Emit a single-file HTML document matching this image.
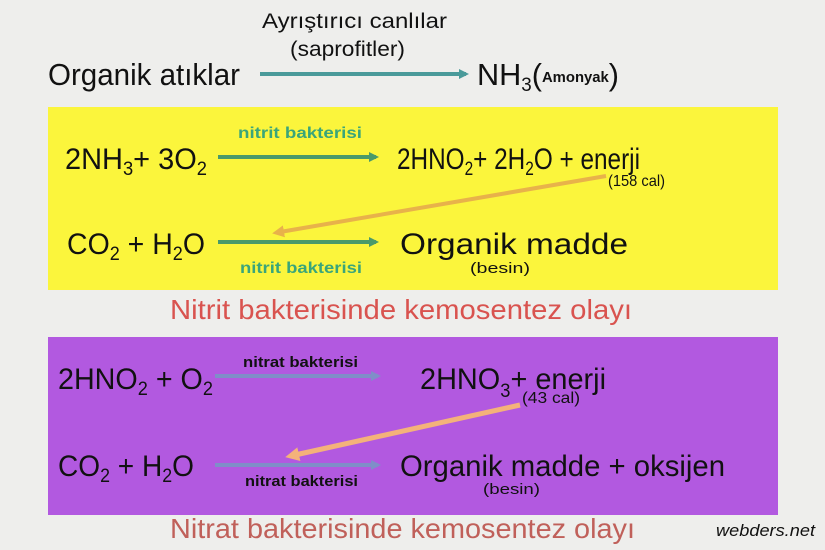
<!DOCTYPE html>
<html><head><meta charset="utf-8"><style>
html,body{margin:0;padding:0;background:#eeeeec}
svg{display:block}
text{font-family:"Liberation Sans Narrow","Liberation Sans",sans-serif}
</style></head><body>
<svg width="825" height="550" viewBox="0 0 825 550" xmlns="http://www.w3.org/2000/svg">
<defs>
<marker id="ag" markerWidth="10" markerHeight="10" refX="7" refY="5" orient="auto" markerUnits="userSpaceOnUse"><path d="M0,0 L10,5 L0,10 Z" fill="#4a9a6a"/></marker>
<marker id="at" markerWidth="10" markerHeight="10" refX="7" refY="5" orient="auto" markerUnits="userSpaceOnUse"><path d="M0,0 L10,5 L0,10 Z" fill="#4a9a9a"/></marker>
<marker id="ab" markerWidth="10" markerHeight="10" refX="7" refY="5" orient="auto" markerUnits="userSpaceOnUse"><path d="M0,0 L10,5 L0,10 Z" fill="#7f8ec8"/></marker>
<marker id="ao" markerWidth="12" markerHeight="12" refX="4" refY="6" orient="auto" markerUnits="userSpaceOnUse"><path d="M0,0 L12,6 L0,12 Z" fill="#e8b24a"/></marker>
<marker id="ap" markerWidth="14" markerHeight="14" refX="4" refY="7" orient="auto" markerUnits="userSpaceOnUse"><path d="M0,0 L14,7 L0,14 Z" fill="#f4b27a"/></marker>
</defs>
<rect width="825" height="550" fill="#eeeeec"/>
<!-- top -->
<text x="262" y="28" font-size="21" fill="#111" textLength="185" lengthAdjust="spacingAndGlyphs">Ayrıştırıcı canlılar</text>
<text x="290" y="56" font-size="21" fill="#111" textLength="115" lengthAdjust="spacingAndGlyphs">(saprofitler)</text>
<text x="48" y="85" font-size="31" fill="#111" textLength="192" lengthAdjust="spacingAndGlyphs">Organik atıklar</text>
<line x1="260" y1="74" x2="466" y2="74" stroke="#4a9a9a" stroke-width="4" marker-end="url(#at)"/>
<text x="477" y="85" font-size="31" fill="#111" textLength="142" lengthAdjust="spacingAndGlyphs">NH<tspan font-size="19" dy="6">3</tspan><tspan dy="-6">(</tspan><tspan font-size="15" font-weight="bold" dy="-3">Amonyak</tspan><tspan dy="3">)</tspan></text>
<!-- yellow -->
<rect x="48" y="107" width="730" height="183" fill="#fbf53c"/>
<text x="238" y="138" font-size="16" font-weight="bold" fill="#3aa57a" textLength="124" lengthAdjust="spacingAndGlyphs">nitrit bakterisi</text>
<text x="65" y="169" font-size="30" fill="#111" textLength="142" lengthAdjust="spacingAndGlyphs">2NH<tspan font-size="19" dy="6">3</tspan><tspan dy="-6">+ 3O</tspan><tspan font-size="19" dy="6">2</tspan></text>
<line x1="218" y1="157" x2="376" y2="157" stroke="#4a9a6a" stroke-width="4" marker-end="url(#ag)"/>
<text x="397" y="169" font-size="30" fill="#111" textLength="243" lengthAdjust="spacingAndGlyphs">2HNO<tspan font-size="19" dy="6">2</tspan><tspan dy="-6">+ 2H</tspan><tspan font-size="19" dy="6">2</tspan><tspan dy="-6">O + enerji</tspan></text>
<text x="608" y="186" font-size="16" fill="#111" textLength="57" lengthAdjust="spacingAndGlyphs">(158 cal)</text>
<line x1="606" y1="176" x2="280" y2="232" stroke="#e8b24a" stroke-width="4" marker-end="url(#ao)"/>
<text x="67" y="254" font-size="30" fill="#111" textLength="138" lengthAdjust="spacingAndGlyphs">CO<tspan font-size="19" dy="6">2</tspan><tspan dy="-6"> + H</tspan><tspan font-size="19" dy="6">2</tspan><tspan dy="-6">O</tspan></text>
<line x1="218" y1="242" x2="376" y2="242" stroke="#4a9a6a" stroke-width="4" marker-end="url(#ag)"/>
<text x="240" y="273" font-size="16" font-weight="bold" fill="#3aa57a" textLength="122" lengthAdjust="spacingAndGlyphs">nitrit bakterisi</text>
<text x="400" y="254" font-size="30" fill="#111" textLength="228" lengthAdjust="spacingAndGlyphs">Organik madde</text>
<text x="470" y="273" font-size="15" fill="#111" textLength="60" lengthAdjust="spacingAndGlyphs">(besin)</text>
<text x="170" y="319" font-size="28" fill="#d9534f" textLength="462" lengthAdjust="spacingAndGlyphs">Nitrit bakterisinde kemosentez olayı</text>
<!-- purple -->
<rect x="48" y="337" width="730" height="178" fill="#b259e0"/>
<text x="243" y="367" font-size="15" font-weight="bold" fill="#111" textLength="115" lengthAdjust="spacingAndGlyphs">nitrat bakterisi</text>
<text x="58" y="389" font-size="30" fill="#111" textLength="155" lengthAdjust="spacingAndGlyphs">2HNO<tspan font-size="19" dy="6">2</tspan><tspan dy="-6"> + O</tspan><tspan font-size="19" dy="6">2</tspan></text>
<line x1="215" y1="376" x2="378" y2="376" stroke="#7f8ec8" stroke-width="4" marker-end="url(#ab)"/>
<text x="420" y="389" font-size="30" fill="#111" textLength="186" lengthAdjust="spacingAndGlyphs">2HNO<tspan font-size="19" dy="8">3</tspan><tspan dy="-8">+ enerji</tspan></text>
<text x="522" y="403" font-size="16" fill="#111" textLength="58" lengthAdjust="spacingAndGlyphs">(43 cal)</text>
<line x1="520" y1="405" x2="295" y2="455" stroke="#f4b27a" stroke-width="5" marker-end="url(#ap)"/>
<text x="58" y="476" font-size="30" fill="#111" textLength="136" lengthAdjust="spacingAndGlyphs">CO<tspan font-size="19" dy="6">2</tspan><tspan dy="-6"> + H</tspan><tspan font-size="19" dy="6">2</tspan><tspan dy="-6">O</tspan></text>
<line x1="215" y1="465" x2="378" y2="465" stroke="#7f8ec8" stroke-width="4" marker-end="url(#ab)"/>
<text x="245" y="486" font-size="15" font-weight="bold" fill="#111" textLength="113" lengthAdjust="spacingAndGlyphs">nitrat bakterisi</text>
<text x="400" y="476" font-size="30" fill="#111" textLength="325" lengthAdjust="spacingAndGlyphs">Organik madde + oksijen</text>
<text x="483" y="494" font-size="15" fill="#111" textLength="57" lengthAdjust="spacingAndGlyphs">(besin)</text>
<text x="170" y="538" font-size="28" fill="#c0605a" textLength="465" lengthAdjust="spacingAndGlyphs">Nitrat bakterisinde kemosentez olayı</text>
<text x="716" y="536" font-size="17" font-style="italic" fill="#111" textLength="99" lengthAdjust="spacingAndGlyphs">webders.net</text>
</svg>
</body></html>
